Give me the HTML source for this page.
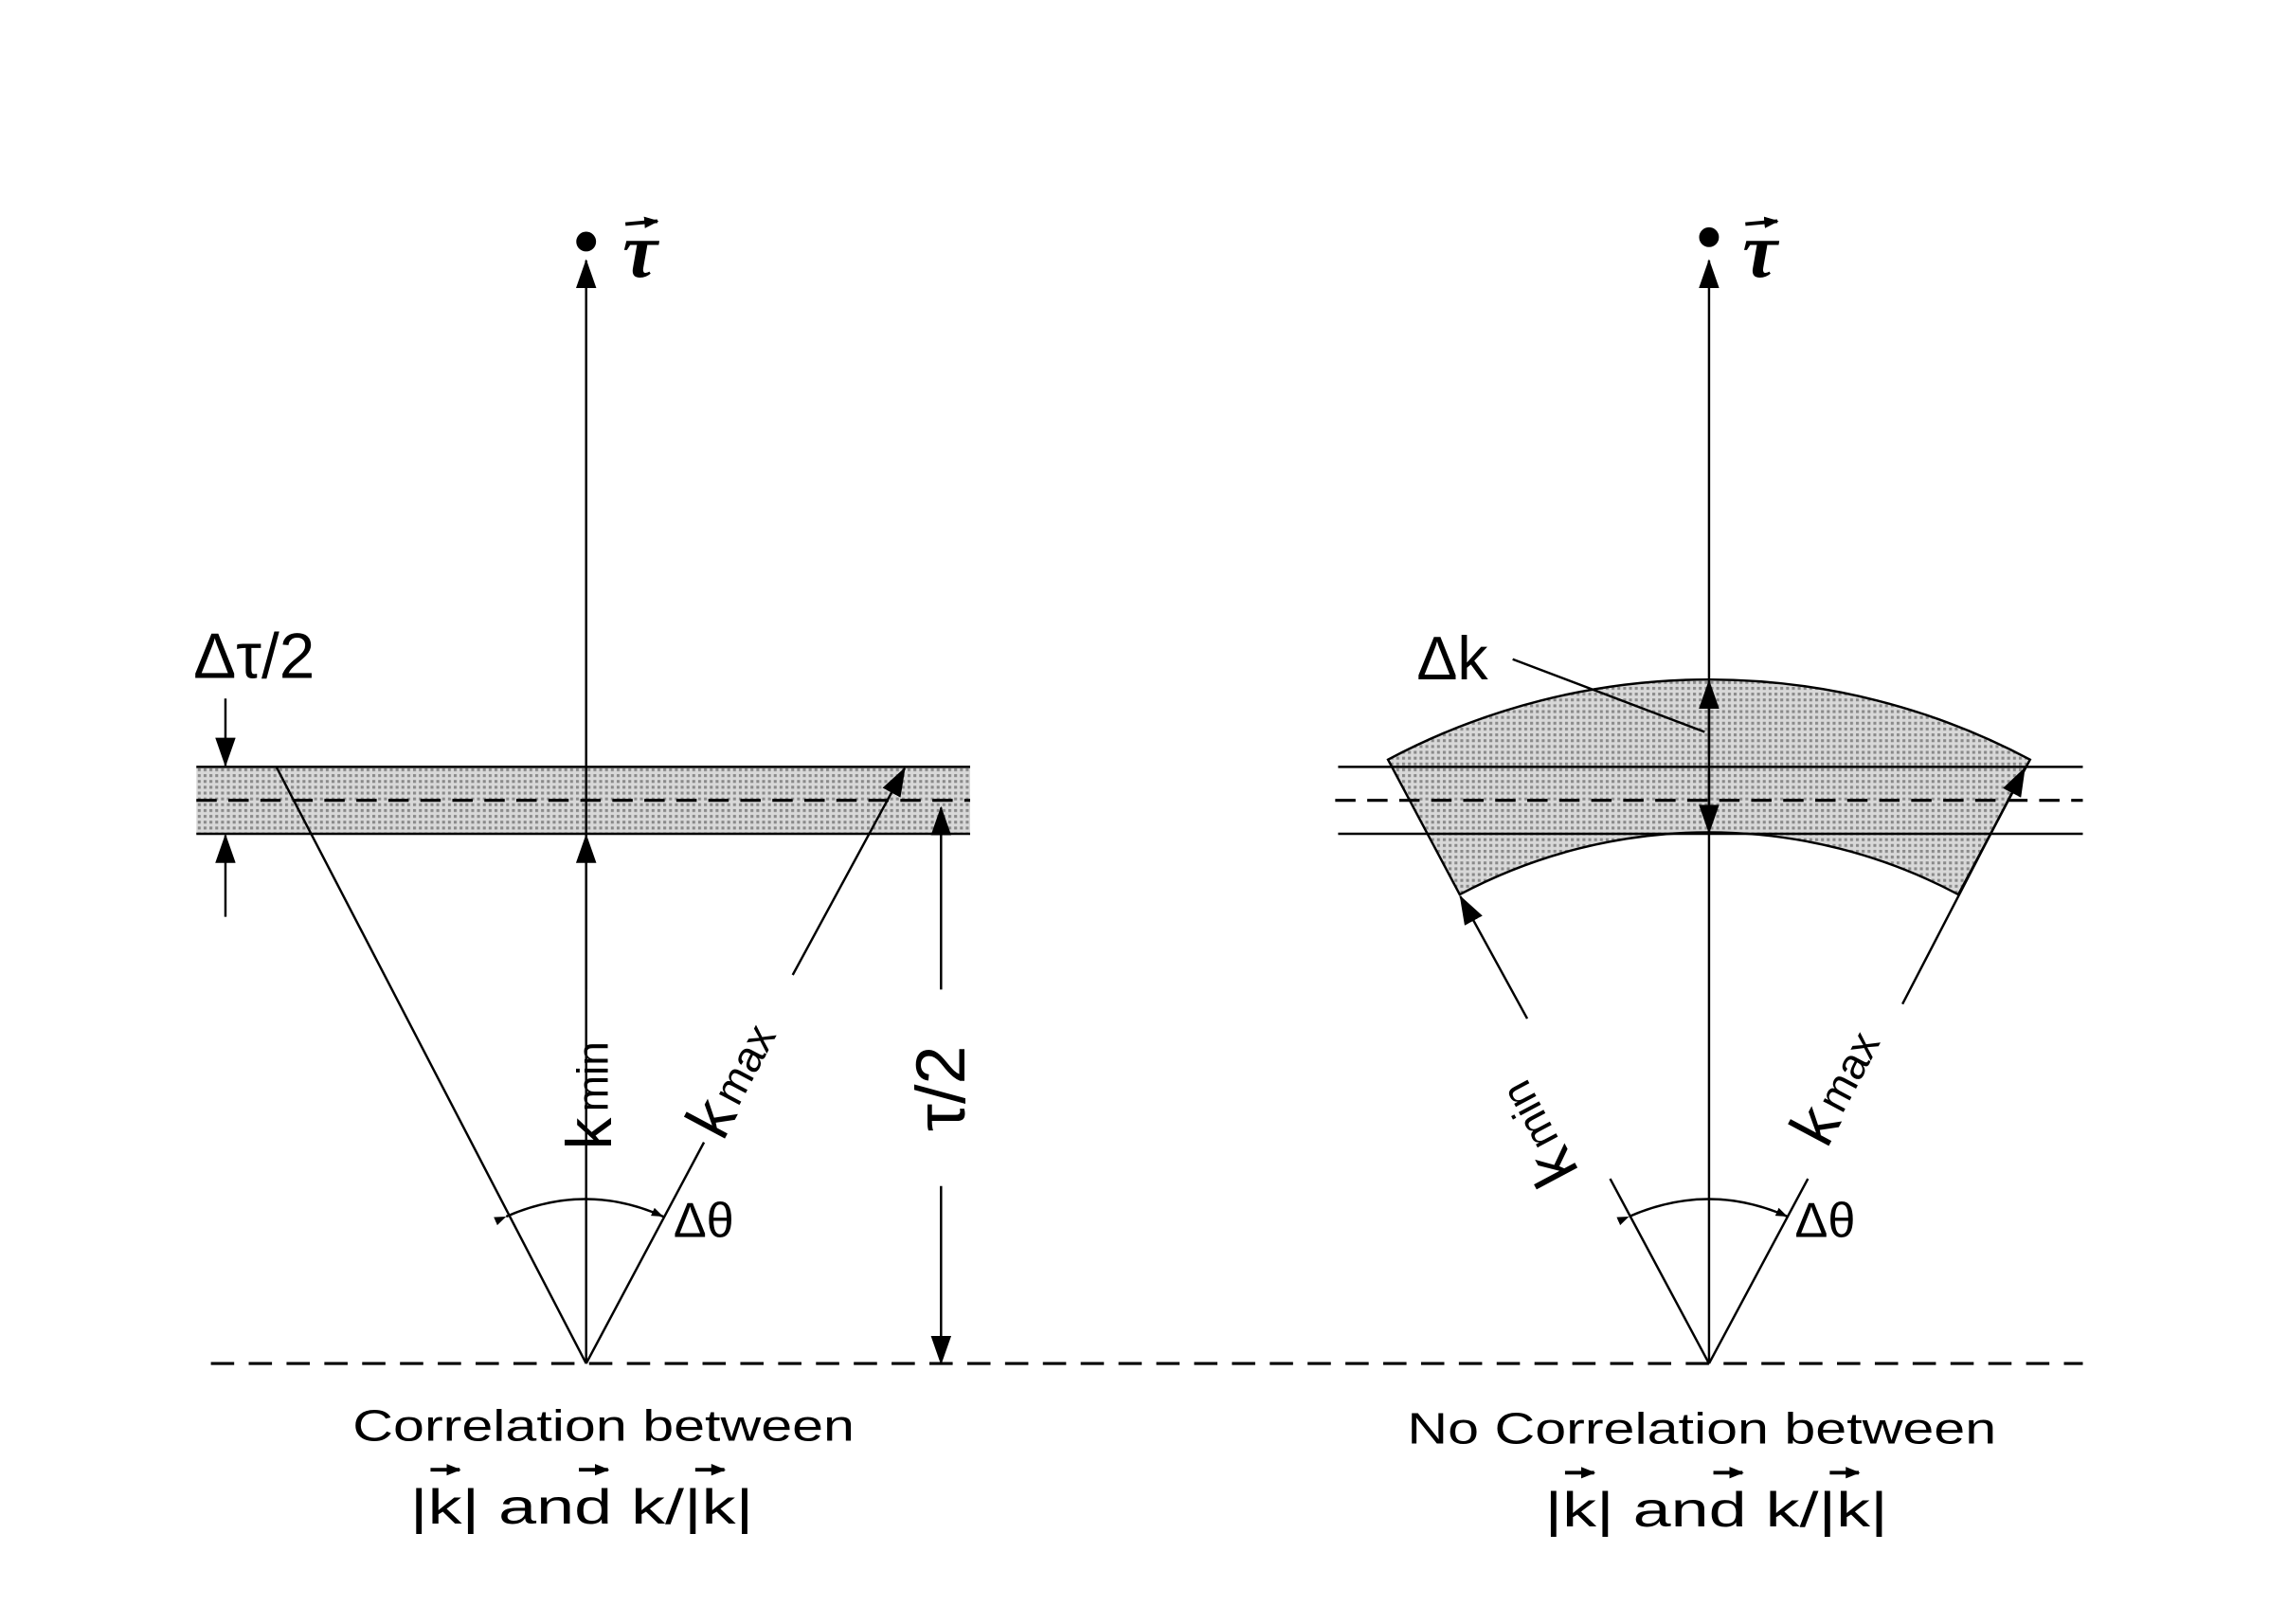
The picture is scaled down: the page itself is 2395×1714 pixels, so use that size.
<!DOCTYPE html>
<html><head><meta charset="utf-8"><style>html,body{margin:0;padding:0;background:#fff}svg{display:block}</style></head><body>
<svg width="2395" height="1714" viewBox="0 0 1560 1116" preserveAspectRatio="none" xmlns="http://www.w3.org/2000/svg" font-family="Liberation Sans, sans-serif">
<defs>
<pattern id="dots" width="4" height="4" patternUnits="userSpaceOnUse"><rect width="4" height="4" fill="#d8d8d8"/><rect width="2" height="2" fill="#8a8a8a"/></pattern>
<marker id="ah" markerWidth="10" markerHeight="10" refX="9" refY="5" orient="auto" markerUnits="userSpaceOnUse"><path d="M0,1 L10,5 L0,9 Z" fill="#000"/></marker>
<marker id="big" markerWidth="20" markerHeight="14" refX="19" refY="7" orient="auto" markerUnits="userSpaceOnUse"><path d="M0,0 L20,7 L0,14 Z" fill="#000"/></marker>
<marker id="sm" markerWidth="8" markerHeight="8" refX="8" refY="4" orient="auto" markerUnits="userSpaceOnUse"><path d="M0,1 L8,4 L0,7 Z" fill="#000"/></marker>
</defs>
<g stroke="#000" stroke-width="1.6" fill="none">
<line x1="145" y1="937" x2="1432" y2="937" stroke-dasharray="16,10" stroke-width="2"/>

<rect x="135" y="527" width="532" height="46" fill="url(#dots)" stroke="none"/>
<line x1="135" y1="527" x2="667" y2="527"/>
<line x1="135" y1="573" x2="667" y2="573"/>
<line x1="135" y1="550" x2="667" y2="550" stroke-dasharray="14,8" stroke-width="2"/>
<line x1="403" y1="937" x2="403" y2="179" marker-end="url(#big)"/>
<circle cx="403" cy="166" r="6" fill="#000"/>
<line x1="190" y1="527" x2="403" y2="937"/>
<line x1="403" y1="937" x2="484" y2="785"/>
<line x1="545" y1="670" x2="622" y2="528" marker-end="url(#big)"/>
<line x1="403" y1="680" x2="403" y2="574" marker-end="url(#big)"/>
<line x1="647" y1="680" x2="647" y2="555" marker-end="url(#big)"/>
<line x1="647" y1="815" x2="647" y2="937" marker-end="url(#big)"/>
<line x1="155" y1="480" x2="155" y2="526" marker-end="url(#big)"/>
<line x1="155" y1="630" x2="155" y2="574" marker-end="url(#big)"/>
<path d="M348,836 Q403,812 456,836" marker-start="url(#sm)" marker-end="url(#sm)"/>

<path d="M954.3,522 A470 470 0 0 1 1395.7,522 L1346.4,614.7 A365 365 0 0 0 1003.6,614.7 Z" fill="url(#dots)"/>
<line x1="920" y1="527" x2="1432" y2="527"/>
<line x1="920" y1="573" x2="1432" y2="573"/>
<line x1="918" y1="550" x2="1432" y2="550" stroke-dasharray="14,8" stroke-width="2"/>
<line x1="1175" y1="937" x2="1175" y2="179" marker-end="url(#big)"/>
<circle cx="1175" cy="163" r="6" fill="#000"/>
<line x1="1175" y1="520" x2="1175" y2="468" marker-end="url(#big)"/>
<line x1="1175" y1="530" x2="1175" y2="572" marker-end="url(#big)"/>
<line x1="1040" y1="453" x2="1172" y2="503"/>
<line x1="1175" y1="937" x2="1107" y2="810"/>
<line x1="1050" y1="700" x2="1004" y2="616" marker-end="url(#big)"/>
<line x1="1175" y1="937" x2="1243" y2="810"/>
<line x1="1308" y1="690" x2="1392" y2="528" marker-end="url(#big)"/>
<path d="M1120,836 Q1175,812 1229,836" marker-start="url(#sm)" marker-end="url(#sm)"/>
</g>

<g fill="#000" stroke="none">
<text x="428" y="190" font-family="Liberation Serif, serif" font-style="italic" font-weight="bold" font-size="54">τ</text>
<text x="1198" y="190" font-family="Liberation Serif, serif" font-style="italic" font-weight="bold" font-size="54">τ</text>

<text x="133" y="466" font-size="44">Δτ/2</text>

<text transform="translate(420,790) rotate(-90)" font-size="44">k<tspan font-size="30" dx="4" dy="-2">min</tspan></text>
<text transform="translate(497,785) rotate(-62)" font-size="44">k<tspan font-size="30" dx="4" dy="-2">max</tspan></text>
<text transform="translate(663,748) rotate(-90)" font-size="48" text-anchor="middle">τ/2</text>
<text x="463" y="850" font-size="34">Δθ</text>

<text x="974" y="467" font-size="42">Δk</text>
<text transform="translate(1086,805) rotate(-118)" font-size="44">k<tspan font-size="30" dx="4" dy="-2">min</tspan></text>
<text transform="translate(1256,790) rotate(-62)" font-size="44">k<tspan font-size="30" dx="4" dy="-2">max</tspan></text>
<text x="1234" y="850" font-size="34">Δθ</text>

<text x="415" y="990" font-size="30" text-anchor="middle" textLength="345" lengthAdjust="spacingAndGlyphs">Correlation  between</text>
<text x="1170" y="992" font-size="30" text-anchor="middle" textLength="405" lengthAdjust="spacingAndGlyphs">No Correlation  between</text>
<text x="400" y="1047" font-size="34" text-anchor="middle" textLength="236" lengthAdjust="spacingAndGlyphs">|k| and k/|k|</text>
<text x="1180" y="1049" font-size="34" text-anchor="middle" textLength="236" lengthAdjust="spacingAndGlyphs">|k| and k/|k|</text>
</g>
<g stroke="#000" stroke-width="2.5" fill="none">
<line x1="430" y1="154" x2="452" y2="152" marker-end="url(#ah)"/>
<line x1="1200" y1="154" x2="1222" y2="152" marker-end="url(#ah)"/>
<line x1="296" y1="1010" x2="316" y2="1010" marker-end="url(#ah)"/>
<line x1="398" y1="1010" x2="418" y2="1010" marker-end="url(#ah)"/>
<line x1="478" y1="1010" x2="498" y2="1010" marker-end="url(#ah)"/>
<line x1="1076" y1="1012" x2="1096" y2="1012" marker-end="url(#ah)"/>
<line x1="1178" y1="1012" x2="1198" y2="1012" marker-end="url(#ah)"/>
<line x1="1258" y1="1012" x2="1278" y2="1012" marker-end="url(#ah)"/>
</g>
</svg>
</body></html>
